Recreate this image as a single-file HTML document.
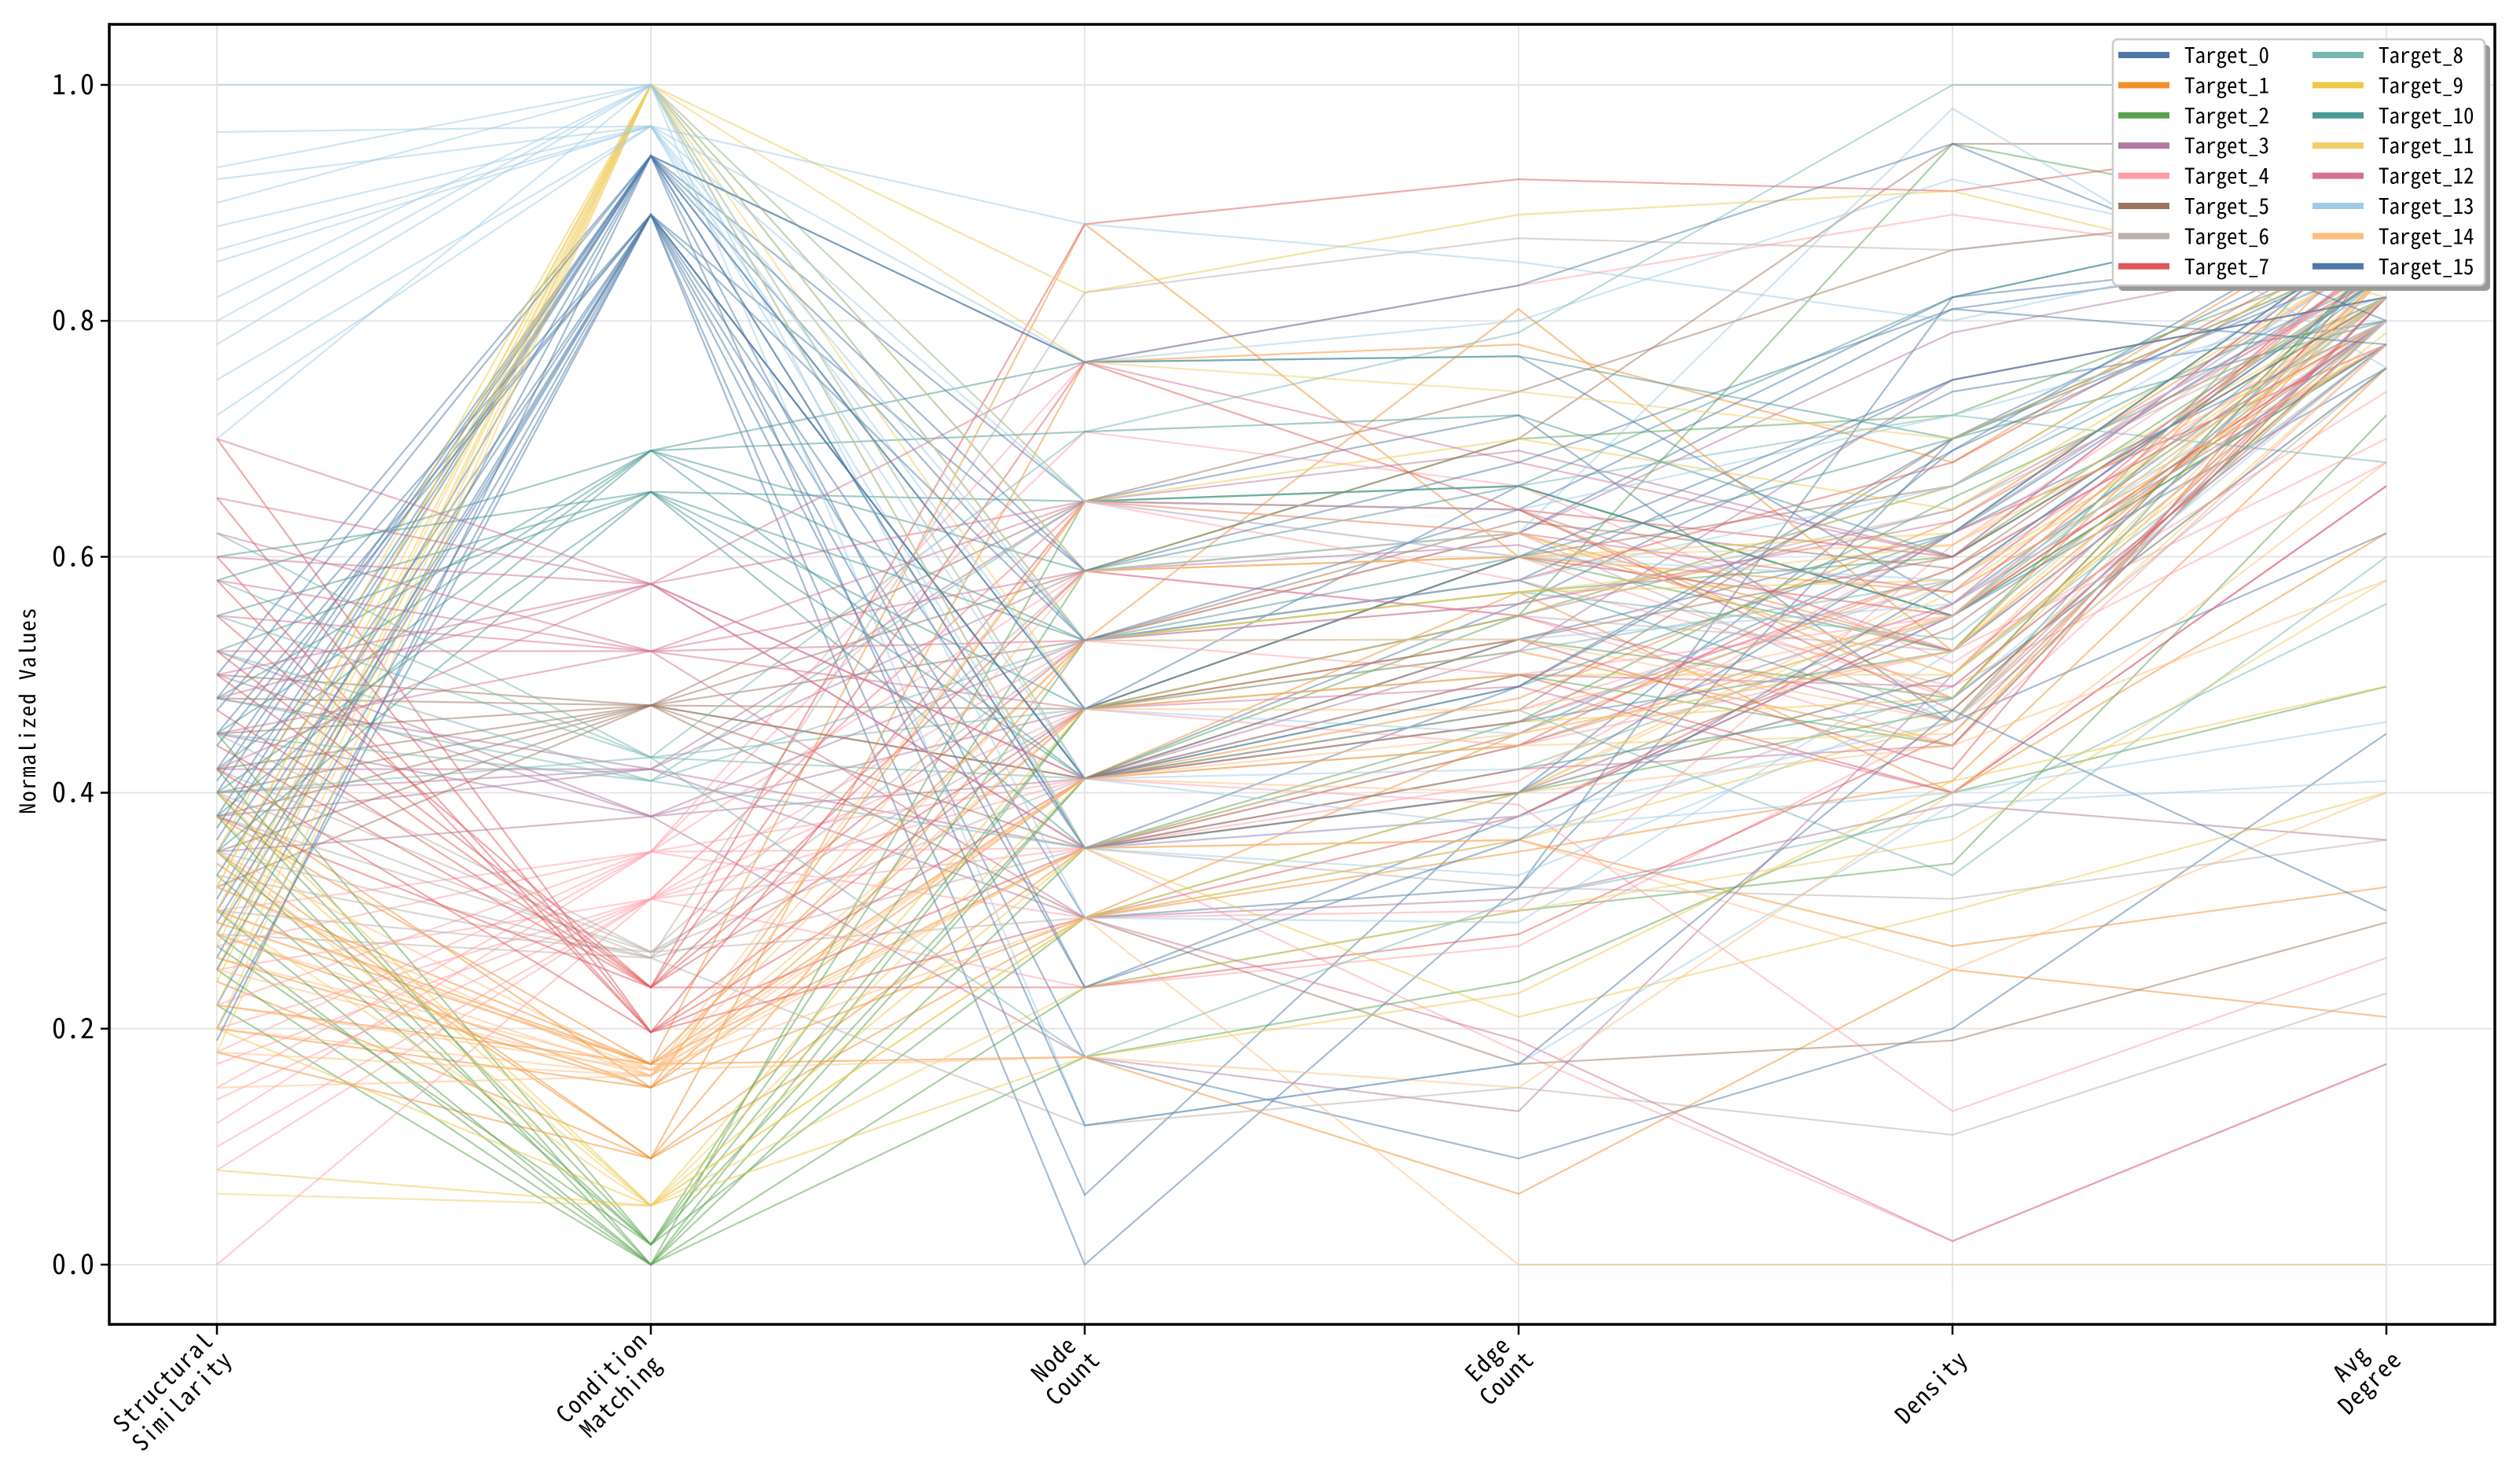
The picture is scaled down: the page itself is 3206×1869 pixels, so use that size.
<!DOCTYPE html>
<html><head><meta charset="utf-8">
<style>
html,body{margin:0;padding:0;background:#fff;}
svg{display:block;}
text{font-family:"WenQuanYi Zen Hei Mono","Noto Sans Mono CJK SC","WenQuanYi Zen Hei","Noto Sans CJK SC",monospace;}
</style></head>
<body>
<svg id="chart" width="3206" height="1869" xmlns="http://www.w3.org/2000/svg">
  <rect x="0" y="0" width="3206" height="1869" fill="#fff"/>
  <g id="grid"></g>
  <g id="lines"></g>
  <rect x="139" y="31" width="3035" height="1654" fill="none" stroke="#000" stroke-width="3.5"/>
  <g id="axes"></g>
  <text transform="translate(45,904) rotate(-90)" text-anchor="middle" font-size="28" letter-spacing="1.5">Normalized Values</text>
  <g id="legend"></g>
</svg>
<script>
const dims = ["Structural\nSimilarity","Condition\nMatching","Node\nCount","Edge\nCount","Density","Avg\nDegree"];
const yTicks = [0.0,0.2,0.4,0.6,0.8,1.0];
const yTickLabels = ["0.0","0.2","0.4","0.6","0.8","1.0"];
const targetNames = ["Target_0","Target_1","Target_2","Target_3","Target_4","Target_5","Target_6","Target_7","Target_8","Target_9","Target_10","Target_11","Target_12","Target_13","Target_14","Target_15"];
const colors = ["#4e79a7","#f28e2b","#59a14f","#b07aa1","#ff9da7","#9c755f","#bab0ac","#e15759","#76b7b2","#edc948","#499894","#f1ce63","#d37295","#a0cbe8","#ffbe7d","#4e79a7"];

const t0 = [[0.35,0.89,0.412,0.53,0.62,0.80],[0.42,0.94,0.353,0.49,0.70,0.85],[0.28,0.89,0.294,0.32,0.82,0.90],[0.50,0.94,0.471,0.66,0.55,0.76],[0.22,0.89,0.176,0.09,0.20,0.45],[0.38,0.94,0.647,0.72,0.46,0.62],[0.45,0.89,0.0,0.32,0.70,0.88],[0.31,0.94,0.529,0.58,0.75,0.82],[0.26,0.94,0.353,0.45,0.62,0.85],[0.47,0.89,0.412,0.56,0.74,0.80],[0.36,0.94,0.235,0.38,0.55,0.78],[0.20,0.89,0.588,0.62,0.81,0.86],[0.41,0.94,0.765,0.77,0.56,0.82],[0.30,0.89,0.059,0.40,0.69,0.90]];
const t1 = [[0.30,0.17,0.529,0.81,0.52,0.88],[0.26,0.15,0.412,0.57,0.40,0.62],[0.35,0.09,0.294,0.45,0.59,0.80],[0.22,0.17,0.176,0.06,0.25,0.21],[0.40,0.15,0.647,0.64,0.48,0.86],[0.18,0.09,0.353,0.36,0.27,0.32],[0.32,0.17,0.882,0.60,0.57,0.78],[0.28,0.15,0.471,0.52,0.44,0.84],[0.24,0.09,0.529,0.62,0.52,0.82],[0.38,0.17,0.412,0.48,0.63,0.86],[0.20,0.15,0.294,0.35,0.41,0.76],[0.34,0.09,0.765,0.78,0.68,0.90],[0.29,0.17,0.353,0.44,0.55,0.80]];
const t2 = [[0.30,0.0,0.412,0.55,0.95,0.88],[0.35,0.017,0.471,0.60,0.52,0.90],[0.25,0.0,0.176,0.24,0.40,0.49],[0.40,0.017,0.294,0.40,0.47,0.80],[0.28,0.0,0.353,0.46,0.65,0.82],[0.45,0.017,0.588,0.70,0.72,0.86],[0.22,0.0,0.235,0.30,0.34,0.72],[0.33,0.017,0.529,0.57,0.60,0.84],[0.38,0.0,0.647,0.66,0.55,0.78],[0.27,0.017,0.412,0.50,0.44,0.82],[0.42,0.0,0.471,0.53,0.48,0.86]];
const t3 = [[0.45,0.38,0.412,0.52,0.75,0.82],[0.38,0.42,0.294,0.31,0.39,0.36],[0.50,0.38,0.529,0.62,0.79,0.86],[0.42,0.42,0.353,0.44,0.56,0.78],[0.35,0.38,0.176,0.13,0.50,0.80],[0.48,0.42,0.647,0.69,0.60,0.88],[0.52,0.38,0.471,0.55,0.64,0.84],[0.40,0.42,0.588,0.61,0.52,0.80]];
const t4 = [[0.15,0.35,0.765,0.83,0.89,0.84],[0.20,0.31,0.647,0.60,0.48,0.76],[0.12,0.35,0.412,0.39,0.13,0.26],[0.25,0.31,0.529,0.50,0.55,0.80],[0.0,0.31,0.353,0.18,0.02,0.17],[0.18,0.35,0.294,0.30,0.61,0.85],[0.10,0.31,0.471,0.44,0.52,0.70],[0.22,0.35,0.588,0.55,0.44,0.78],[0.14,0.31,0.412,0.47,0.58,0.82],[0.27,0.35,0.706,0.66,0.51,0.74],[0.08,0.31,0.235,0.27,0.46,0.80],[0.30,0.35,0.353,0.41,0.62,0.86],[0.17,0.31,0.647,0.58,0.49,0.68]];
const t5 = [[0.45,0.474,0.588,0.70,0.95,0.95],[0.38,0.474,0.412,0.53,0.60,0.82],[0.50,0.474,0.471,0.60,0.66,0.88],[0.32,0.474,0.294,0.17,0.19,0.29],[0.42,0.474,0.647,0.74,0.86,0.90],[0.35,0.474,0.353,0.40,0.54,0.80],[0.48,0.474,0.529,0.63,0.59,0.84],[0.40,0.474,0.412,0.47,0.70,0.86]];
const t6 = [[0.40,0.26,0.353,0.32,0.31,0.36],[0.30,0.265,0.471,0.55,0.52,0.80],[0.35,0.26,0.824,0.87,0.86,0.90],[0.45,0.265,0.588,0.62,0.46,0.76],[0.28,0.26,0.118,0.15,0.11,0.23],[0.38,0.265,0.412,0.46,0.58,0.84],[0.33,0.26,0.529,0.56,0.64,0.82],[0.42,0.265,0.294,0.36,0.49,0.78]];
const t7 = [[0.50,0.235,0.882,0.92,0.91,0.96],[0.42,0.197,0.647,0.64,0.47,0.80],[0.55,0.235,0.471,0.50,0.40,0.66],[0.60,0.197,0.294,0.38,0.56,0.86],[0.38,0.235,0.235,0.28,0.45,0.82],[0.70,0.197,0.412,0.44,0.62,0.78],[0.47,0.235,0.529,0.58,0.68,0.88],[0.58,0.197,0.353,0.40,0.50,0.84],[0.44,0.235,0.588,0.60,0.55,0.80],[0.65,0.197,0.471,0.53,0.42,0.86],[0.52,0.235,0.765,0.64,0.60,0.82]];
const t8 = [[0.55,0.43,0.706,0.79,1.0,1.0],[0.48,0.41,0.647,0.66,0.72,0.68],[0.40,0.43,0.412,0.47,0.33,0.60],[0.52,0.41,0.529,0.57,0.53,0.82],[0.62,0.43,0.176,0.31,0.38,0.56],[0.45,0.41,0.353,0.40,0.50,0.78],[0.58,0.43,0.471,0.52,0.58,0.84]];
const t9 = [[0.30,1.0,0.824,0.89,0.91,0.82],[0.25,1.0,0.529,0.57,0.58,0.80],[0.20,0.05,0.353,0.21,0.30,0.40],[0.35,1.0,0.647,0.70,0.64,0.86],[0.40,0.05,0.471,0.50,0.50,0.79],[0.28,1.0,0.412,0.46,0.48,0.84],[0.08,0.05,0.176,0.23,0.41,0.49],[0.32,1.0,0.353,0.42,0.55,0.82],[0.24,1.0,0.588,0.60,0.62,0.88],[0.38,0.05,0.294,0.36,0.46,0.80]];
const t10 = [[0.48,0.69,0.765,0.77,0.70,0.80],[0.55,0.655,0.647,0.66,0.55,0.84],[0.42,0.69,0.529,0.58,0.46,0.86],[0.60,0.655,0.412,0.49,0.62,0.88],[0.38,0.69,0.588,0.66,0.82,0.90],[0.52,0.655,0.353,0.42,0.48,0.76],[0.45,0.69,0.706,0.72,0.60,0.82],[0.35,0.655,0.471,0.55,0.66,0.84],[0.58,0.69,0.412,0.46,0.52,0.80],[0.40,0.655,0.529,0.60,0.70,0.86]];
const t11 = [[0.22,1.0,0.765,0.74,0.70,0.86],[0.30,0.05,0.294,0.40,0.57,0.82],[0.18,1.0,0.588,0.62,0.50,0.80],[0.06,0.05,0.235,0.30,0.36,0.58],[0.27,1.0,0.471,0.55,0.66,0.88],[0.35,0.05,0.412,0.44,0.45,0.78],[0.32,1.0,0.353,0.45,0.52,0.84],[0.20,1.0,0.529,0.57,0.61,0.82]];
const t12 = [[0.60,0.577,0.647,0.64,0.52,0.80],[0.52,0.52,0.471,0.49,0.40,0.66],[0.70,0.577,0.353,0.38,0.55,0.86],[0.45,0.52,0.588,0.55,0.46,0.82],[0.65,0.577,0.765,0.68,0.60,0.88],[0.55,0.52,0.294,0.19,0.02,0.17],[0.48,0.577,0.412,0.46,0.59,0.80],[0.58,0.52,0.529,0.56,0.63,0.84],[0.42,0.577,0.412,0.50,0.49,0.78],[0.62,0.52,0.647,0.62,0.57,0.86],[0.50,0.577,0.353,0.42,0.44,0.82]];
const t13 = [[0.96,0.965,0.765,0.80,0.92,0.84],[0.90,1.0,0.529,0.53,0.56,0.80],[0.85,0.965,0.412,0.37,0.40,0.46],[0.78,1.0,0.647,0.64,0.72,0.82],[0.92,0.965,0.353,0.33,0.48,0.78],[0.70,1.0,0.118,0.17,0.39,0.41],[1.0,1.0,0.588,0.62,0.98,0.76],[0.88,0.965,0.471,0.45,0.62,0.86],[0.82,1.0,0.294,0.29,0.52,0.80],[0.75,0.965,0.882,0.85,0.80,0.88],[0.93,1.0,0.412,0.42,0.55,0.82],[0.86,0.965,0.529,0.58,0.66,0.86],[0.80,1.0,0.353,0.38,0.46,0.80],[0.72,0.965,0.647,0.60,0.58,0.84]];
const t14 = [[0.20,0.16,0.353,0.36,0.25,0.40],[0.25,0.16,0.471,0.47,0.55,0.86],[0.30,0.165,0.294,0.0,0.0,0.0],[0.15,0.16,0.588,0.60,0.61,0.80],[0.35,0.165,0.412,0.40,0.44,0.58],[0.28,0.16,0.529,0.53,0.46,0.84],[0.22,0.165,0.176,0.15,0.40,0.68],[0.18,0.16,0.412,0.45,0.52,0.82],[0.26,0.165,0.353,0.40,0.58,0.78],[0.32,0.16,0.647,0.62,0.50,0.86]];
const t15 = [[0.40,0.94,0.588,0.68,0.81,0.78],[0.25,0.89,0.353,0.40,0.62,0.88],[0.48,0.94,0.765,0.83,0.95,0.80],[0.33,0.89,0.412,0.49,0.69,0.86],[0.19,0.94,0.118,0.17,0.47,0.30],[0.44,0.89,0.235,0.36,0.58,0.84],[0.37,0.94,0.471,0.60,0.75,0.82],[0.29,0.89,0.529,0.64,0.82,0.86]];
const allSeries = [t0,t1,t2,t3,t4,t5,t6,t7,t8,t9,t10,t11,t12,t13,t14,t15];

const NS = "http://www.w3.org/2000/svg";
const X0 = 276, X1 = 3036, Y0 = 1609, Y1 = 108;
function xAxis(i){ return X0 + (X1 - X0) * i / (dims.length - 1); }
function yAxis(v){ return Y0 + (Y1 - Y0) * v; }
function mk(tag, attrs, parent){ const e = document.createElementNS(NS, tag); for (const k in attrs) e.setAttribute(k, attrs[k]); parent.appendChild(e); return e; }

const grid = document.getElementById('grid');
yTicks.forEach((t, i) => {
  const l = mk('line', {x1:139, x2:3174, y1:yAxis(t), y2:yAxis(t), stroke:'#e6e6e6', 'stroke-width':2}, grid);
  
  
});
dims.forEach((d, i) => {
  const l = mk('line', {x1:xAxis(i), x2:xAxis(i), y1:31, y2:1685, stroke:'#e6e6e6', 'stroke-width':2}, grid);
  
  
});

const lines = document.getElementById('lines');
allSeries.forEach((rows, si) => {
  rows.forEach(r => {
    const pts = r.map((v, i) => xAxis(i).toFixed(1) + ',' + yAxis(v).toFixed(1)).join(' ');
    const p = mk('polyline', {points:pts, fill:'none', stroke:colors[si], 'stroke-width':2.2, 'stroke-opacity':0.5}, lines);
    
    
  });
});

const axes = document.getElementById('axes');
yTicks.forEach((t, i) => {
  const tk = mk('line', {x1:128, x2:139, y1:yAxis(t), y2:yAxis(t), stroke:'#000', 'stroke-width':2.5}, axes);
  
  
  const tx = mk('text', {x:120, y:yAxis(t) + 12, 'text-anchor':'end', 'font-size':36}, axes);
  tx.textContent = yTickLabels[i];
  
  
});
dims.forEach((d, i) => {
  const x = xAxis(i);
  const tk = mk('line', {x1:x, x2:x, y1:1685, y2:1698, stroke:'#000', 'stroke-width':2.5}, axes);
  
  
  const parts = d.split('\n');
  const g = mk('text', {transform:'translate(' + (x + 6) + ',1716) rotate(-45)', 'text-anchor':'middle', 'font-size':30, 'letter-spacing':1.5}, axes);
  
  
  const maxLen = Math.max(...parts.map(p => p.length));
  const half = maxLen * 16.5 / 2;
  parts.forEach((p, k) => {
    const ts = mk('tspan', {x:-half, y:(k - (parts.length - 1)) * 34 + 22}, g);
    ts.textContent = p;
  });
});

const legend = document.getElementById('legend');
const LX = 2688, LY = 50, LW = 473, LH = 313;
const sh = mk('rect', {x:LX + 7, y:LY + 7, width:LW, height:LH, rx:6, fill:'#999'}, legend);


const bx = mk('rect', {x:LX, y:LY, width:LW, height:LH, rx:6, fill:'#fff', stroke:'#ccc', 'stroke-width':2.5}, legend);


targetNames.forEach((n, i) => {
  const col = Math.floor(i / 8), row = i % 8;
  const lx = 2695 + col * 247, ly = 70 + row * 38.4;
  const g = mk('g', {}, legend);
  
  
  mk('line', {x1:lx, x2:lx + 65, y1:ly, y2:ly, stroke:colors[i], 'stroke-width':8}, g);
  const t = mk('text', {x:lx + 84, y:ly + 10, 'font-size':27}, g);
  t.textContent = n;
});
</script>
</body></html>
